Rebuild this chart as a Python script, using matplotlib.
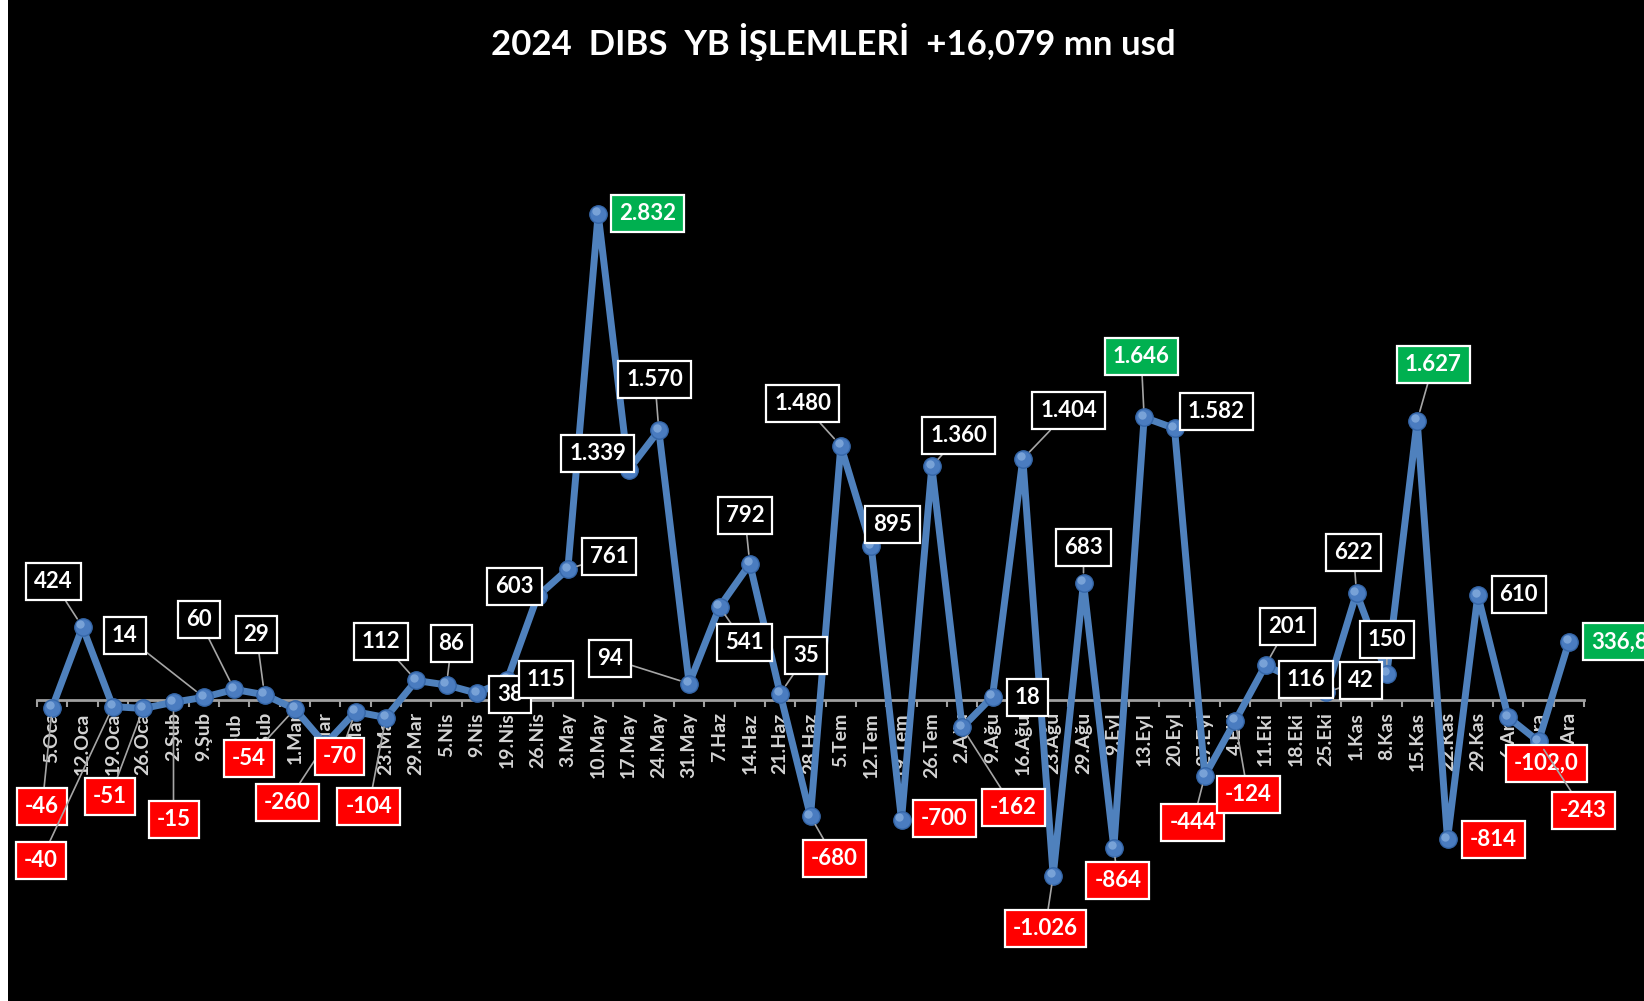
import numpy as np
import matplotlib
matplotlib.use('Agg')
import matplotlib.pyplot as plt
from matplotlib.patches import Rectangle
from matplotlib.transforms import offset_copy

plt.rcParams['font.family'] = ['Lato', 'DejaVu Sans']

# weekly dates (x categories)
weeks = ['5.Oca', '12.Oca', '19.Oca', '26.Oca', '2.Şub', '9.Şub', '16.Şub', '23.Şub',
         '1.Mar', '8.Mar', '15.Mar', '23.Mar', '29.Mar', '5.Nis', '9.Nis', '19.Nis', '26.Nis',
         '3.May', '10.May', '17.May', '24.May', '31.May', '7.Haz', '14.Haz', '21.Haz', '28.Haz',
         '5.Tem', '12.Tem', '19.Tem', '26.Tem', '2.Ağu', '9.Ağu', '16.Ağu', '23.Ağu', '29.Ağu',
         '9.Eyl', '13.Eyl', '20.Eyl', '27.Eyl', '4.Eki', '11.Eki', '18.Eki', '25.Eki',
         '1.Kas', '8.Kas', '15.Kas', '22.Kas', '29.Kas', '6.Ara', '13.Ara', '20.Ara']

# mn usd
flows = [-46, 424, -40, -51, -15, 14, 60, 29,
         -54, -260, -70, -104, 112, 86, 38, 115, 603,
         761, 2832, 1339, 1570, 94, 541, 792, 35, -680,
         1480, 895, -700, 1360, -162, 18, 1404, -1026, 683,
         -864, 1646, 1582, -444, -124, 201, 116, 42,
         622, 150, 1627, -814, 610, -102.0, -243, 336.8]

highlight = ['10.May', '13.Eyl', '15.Kas', '20.Ara']

# label offsets from the point, in pixels (dx, dy up)
offsets = [(-10, -99), (-29, 45), (-72, -154), (-33, -88), (0, -117), (-79, 62), (-35, 70), (-8, 60),
           (-46, -50), (-38, -58), (-16, -45), (-17, -89), (-35, 39), (5, 41), (33, -1), (39, 0), (-23, 10),
           (41, 13), (49, 0), (-31, 17), (-4, 51), (-79, 25), (25, -36), (-5, 48), (26, 38), (24, -42),
           (-38, 42), (21, 22), (43, 1), (27, 31), (51, -80), (35, -1), (46, 48), (-8, -53), (0, 35),
           (4, -33), (-3, 61), (42, 17), (-12, -47), (13, -74), (22, 39), (10, 0), (35, 12),
           (-3, 41), (0, 34), (16, 56), (46, 0), (41, 1), (38, -46), (45, -69), (51, 0)]
no_leader = [14, 15, 16, 18, 19, 27, 28, 31, 37, 41, 46, 47, 48, 50]


def fmt(v):
    if isinstance(v, float):
        return ('%.1f' % v).replace('.', ',')
    return '{:,}'.format(v).replace(',', '.')


fig = plt.figure(figsize=(16.44, 10.01), dpi=100, facecolor='black')
ax = fig.add_axes([37 / 1644, 0.044, 1547 / 1644, 0.771])
ax.set_facecolor('black')
fig.add_artist(Rectangle((0, 0), 8 / 1644, 1, transform=fig.transFigure,
                         facecolor='white', edgecolor='none'))

x = np.arange(len(weeks))
y = np.array(flows, dtype=float)

ax.plot(x, y, color='#4f81bd', lw=5, zorder=3, solid_joinstyle='round')
ax.plot(x, y, ls='none', marker='o', ms=12.5, mfc='#4a7cc0', mec='#3566a8', mew=1, zorder=4)
# small highlight on the markers
hl = offset_copy(ax.transData, fig=fig, x=-1.5, y=1.8, units='points')
ax.plot(x, y, ls='none', marker='o', ms=6, mfc='#8db3e2', mec='none', alpha=0.7,
        transform=hl, zorder=5)

ax.set_xlim(-0.5, len(weeks) - 0.5)
ax.set_ylim(-1500, 3000)

for s in ['top', 'right', 'left']:
    ax.spines[s].set_visible(False)
ax.spines['bottom'].set_position(('data', 0))
ax.spines['bottom'].set_color('#a0a0a0')
ax.spines['bottom'].set_linewidth(2)
ax.set_axisbelow(True)
ax.set_yticks([])
ax.set_xticks(x)
ax.set_xticklabels(weeks, rotation=90, fontsize=14, fontweight='bold', color='#d4d4d4')
ax.set_xticks(np.arange(-0.5, len(weeks)), minor=True)
ax.tick_params(axis='x', which='major', length=0, pad=9)
ax.tick_params(axis='x', which='minor', length=5, width=1.5, color='#a0a0a0', direction='out')

for i, (w, v) in enumerate(zip(weeks, flows)):
    if w in highlight:
        face = '#00b050'
    elif v < 0:
        face = '#ff0000'
    else:
        face = 'black'
    dx, dy = offsets[i]
    arrow = None
    if i not in no_leader:
        arrow = dict(arrowstyle='-', color='#a6a6a6', lw=1.2, shrinkA=0, shrinkB=7)
    ax.annotate(fmt(v), (x[i], v), xytext=(dx, dy), textcoords='offset pixels',
                ha='center', va='center', fontsize=16, fontweight='bold', color='white',
                bbox=dict(boxstyle='square,pad=0.36', fc=face, ec='white', lw=1.6),
                arrowprops=arrow, zorder=6, annotation_clip=False)

fig.text(0.507, 0.958, '2024  DIBS  YB İŞLEMLERİ  +16,079 mn usd', ha='center', va='center',
         fontsize=25, fontweight='bold', color='white')

fig.savefig('out.png', dpi=100, facecolor='black')
